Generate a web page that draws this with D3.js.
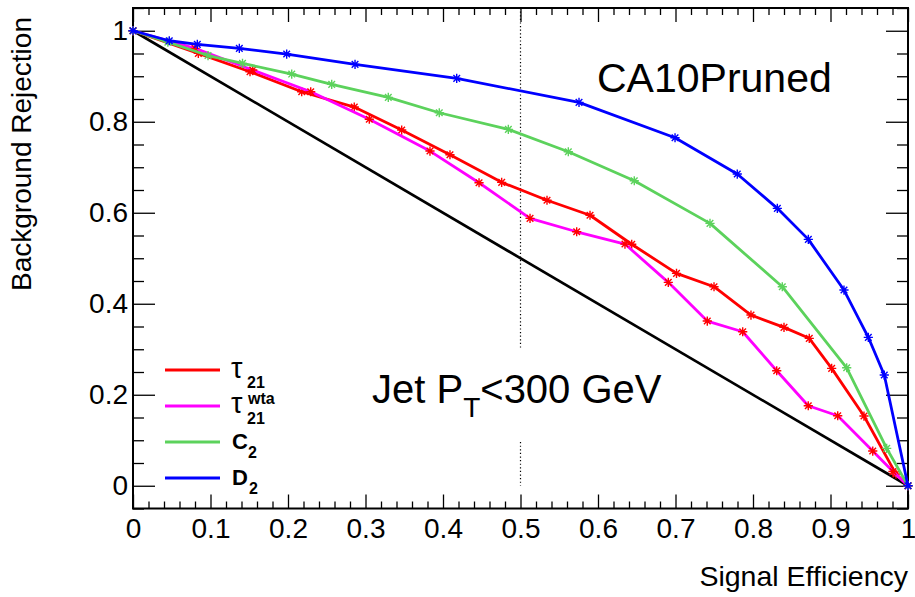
<!DOCTYPE html>
<html><head><meta charset="utf-8">
<script src="https://cdn.jsdelivr.net/npm/d3@7"></script>
<style>
html,body{margin:0;padding:0;background:#fff;}
text{font-family:"Liberation Sans",Arial,Helvetica,sans-serif;}
</style></head>
<body><svg id="c" width="915" height="597"></svg>
<script>
// ---- data ----
const tau21X = [0, 0.0843, 0.151, 0.2177, 0.2855, 0.3467, 0.409, 0.4757, 0.5342, 0.5897, 0.6435, 0.7013, 0.7497, 0.7974, 0.84, 0.8726, 0.9015, 0.9432, 0.9845, 1];
const tau21Y = [1, 0.9503, 0.9099, 0.8659, 0.8323, 0.7818, 0.7275, 0.6668, 0.6275, 0.5945, 0.5308, 0.4668, 0.4374, 0.3752, 0.3481, 0.324, 0.258, 0.1532, 0.0257, 0];
const tauWtaX = [0, 0.08, 0.1545, 0.2293, 0.3049, 0.3832, 0.4465, 0.5123, 0.5725, 0.6348, 0.6907, 0.741, 0.7867, 0.8306, 0.8713, 0.9093, 0.9545, 0.9806, 1];
const tauWtaY = [1, 0.9613, 0.9136, 0.8659, 0.8055, 0.7356, 0.6659, 0.5877, 0.5582, 0.5312, 0.447, 0.362, 0.3385, 0.2527, 0.1758, 0.1538, 0.0763, 0.0312, 0];
const c2X = [0, 0.045, 0.0968, 0.1413, 0.2048, 0.2564, 0.3294, 0.3952, 0.4843, 0.5617, 0.6468, 0.7445, 0.8378, 0.9209, 0.9725, 1];
const c2Y = [1, 0.975, 0.9455, 0.9284, 0.9048, 0.8822, 0.8536, 0.8198, 0.7833, 0.7341, 0.6703, 0.5767, 0.4374, 0.2593, 0.0822, 0];
const d2X = [0, 0.0468, 0.083, 0.1372, 0.1983, 0.2865, 0.4177, 0.5755, 0.6994, 0.7797, 0.8314, 0.8714, 0.9174, 0.9488, 0.9694, 1];
const d2Y = [1, 0.978, 0.97, 0.9613, 0.9488, 0.9261, 0.8954, 0.8426, 0.7648, 0.6851, 0.6097, 0.5415, 0.4301, 0.3262, 0.2433, 0];
const randomX = [0, 1];
const randomY = [1, 0];
const xTicks = [0, 0.1, 0.2, 0.3, 0.4, 0.5, 0.6, 0.7, 0.8, 0.9, 1];
const xTickLabels = ["0", "0.1", "0.2", "0.3", "0.4", "0.5", "0.6", "0.7", "0.8", "0.9", "1"];
const yTicks = [0, 0.2, 0.4, 0.6, 0.8, 1];
const yTickLabels = ["0", "0.2", "0.4", "0.6", "0.8", "1"];
const seriesNames = ["tau21", "tau21wta", "C2", "D2"];

// ---- drawing ----
const svg = d3.select("#c");
const L = 133, R = 908, T = 8, B = 508.5;
const x = d3.scaleLinear().domain([0, 1]).range([L, R]);
const y = d3.scaleLinear().domain([-0.05, 1.05]).range([B, T]);

const series = [
  {name: "tau21", xs: tau21X, ys: tau21Y, color: "#ff0000", marker: "#ff0000"},
  {name: "tau21wta", xs: tauWtaX, ys: tauWtaY, color: "#ff00ff", marker: "#ff0000"},
  {name: "C2", xs: c2X, ys: c2Y, color: "#5cd25c", marker: "#5cd25c"},
  {name: "D2", xs: d2X, ys: d2Y, color: "#0000ff", marker: "#0000ff"}
];

const xMinor = d3.range(0, 51).map(i => i / 50).filter(v => Math.abs(v * 10 - Math.round(v * 10)) > 1e-6);
const yMinor = d3.range(-1, 22).map(i => i * 0.05).filter(v => Math.abs(v * 5 - Math.round(v * 5)) > 1e-6);

function styleAxis(g) {
  g.select(".domain").remove();
  g.selectAll("line").attr("stroke", "#000").attr("stroke-width", 1.3);
  g.selectAll("text").attr("font-size", 28).attr("fill", "#000")
    .attr("font-family", "'Liberation Sans', Arial, sans-serif");
}

// bottom
svg.append("g").attr("transform", `translate(0,${B})`)
  .call(d3.axisBottom(x).tickValues(xTicks).tickSizeInner(-14).tickSizeOuter(0).tickPadding(10)
    .tickFormat((d, i) => xTickLabels[i])).call(styleAxis);
svg.append("g").attr("transform", `translate(0,${B})`)
  .call(d3.axisBottom(x).tickValues(xMinor).tickSizeInner(-7).tickSizeOuter(0).tickFormat("")).call(styleAxis);
// top
svg.append("g").attr("transform", `translate(0,${T})`)
  .call(d3.axisTop(x).tickValues(xTicks).tickSizeInner(-14).tickSizeOuter(0).tickFormat("")).call(styleAxis);
svg.append("g").attr("transform", `translate(0,${T})`)
  .call(d3.axisTop(x).tickValues(xMinor).tickSizeInner(-7).tickSizeOuter(0).tickFormat("")).call(styleAxis);
// left
svg.append("g").attr("transform", `translate(${L},0)`)
  .call(d3.axisLeft(y).tickValues(yTicks).tickSizeInner(-22).tickSizeOuter(0).tickPadding(5)
    .tickFormat((d, i) => yTickLabels[i])).call(styleAxis);
svg.append("g").attr("transform", `translate(${L},0)`)
  .call(d3.axisLeft(y).tickValues(yMinor).tickSizeInner(-11).tickSizeOuter(0).tickFormat("")).call(styleAxis);
// right
svg.append("g").attr("transform", `translate(${R},0)`)
  .call(d3.axisRight(y).tickValues(yTicks).tickSizeInner(-22).tickSizeOuter(0).tickFormat("")).call(styleAxis);
svg.append("g").attr("transform", `translate(${R},0)`)
  .call(d3.axisRight(y).tickValues(yMinor).tickSizeInner(-11).tickSizeOuter(0).tickFormat("")).call(styleAxis);

// frame
svg.append("rect").attr("x", L).attr("y", T).attr("width", R - L).attr("height", B - T)
  .attr("fill", "none").attr("stroke", "#000").attr("stroke-width", 2);

// dotted vertical line at 0.5
svg.append("line").attr("x1", x(0.5)).attr("x2", x(0.5)).attr("y1", y(1.05)).attr("y2", y(0.30))
  .attr("stroke", "#000").attr("stroke-width", 1.2).attr("stroke-dasharray", "1.2,2.4");
svg.append("line").attr("x1", x(0.5)).attr("x2", x(0.5)).attr("y1", y(0.096)).attr("y2", y(0.0))
  .attr("stroke", "#000").attr("stroke-width", 1.2).attr("stroke-dasharray", "1.2,2.4");

// random-guess diagonal
const line = d3.line().x(d => x(d[0])).y(d => y(d[1]));
svg.append("path").attr("d", line(randomX.map((v, i) => [v, randomY[i]])))
  .attr("fill", "none").attr("stroke", "#000").attr("stroke-width", 2.7);

function star(cx, cy, r) {
  const k = r * 0.72;
  return `M${cx - r},${cy}h${2 * r}M${cx},${cy - r}v${2 * r}` +
    `M${cx - k},${cy - k}l${2 * k},${2 * k}M${cx - k},${cy + k}l${2 * k},${-2 * k}`;
}

series.forEach(s => {
  const pts = s.xs.map((v, i) => [v, s.ys[i]]);
  svg.append("path").attr("d", line(pts)).attr("fill", "none")
    .attr("stroke", s.color).attr("stroke-width", 2.8).attr("stroke-linejoin", "round");
  svg.append("path").attr("d", pts.map(p => star(x(p[0]), y(p[1]), 4.6)).join(""))
    .attr("fill", "none").attr("stroke", s.marker).attr("stroke-width", 1.4);
});

// legend
const legY = [370, 406, 442, 478];
series.forEach((s, i) => {
  svg.append("line").attr("x1", 165).attr("x2", 220).attr("y1", legY[i]).attr("y2", legY[i])
    .attr("stroke", s.color).attr("stroke-width", 3);
});
const tauFont = "'DejaVu Sans',sans-serif";
// tau21
svg.append("text").attr("x", 231).attr("y", 378).attr("font-family", tauFont).attr("font-size", 29).text("τ");
svg.append("text").attr("x", 247).attr("y", 388).attr("font-weight", "bold").attr("font-size", 16).text("21");
// tau21 wta
svg.append("text").attr("x", 231).attr("y", 413).attr("font-family", tauFont).attr("font-size", 29).text("τ");
svg.append("text").attr("x", 248).attr("y", 404).attr("font-weight", "bold").attr("font-size", 16).text("wta");
svg.append("text").attr("x", 247).attr("y", 424).attr("font-weight", "bold").attr("font-size", 16).text("21");
// C2
svg.append("text").attr("x", 232).attr("y", 449).attr("font-weight", "bold").attr("font-size", 22).text("C");
svg.append("text").attr("x", 248).attr("y", 458).attr("font-weight", "bold").attr("font-size", 16).text("2");
// D2
svg.append("text").attr("x", 232).attr("y", 485).attr("font-weight", "bold").attr("font-size", 22).text("D");
svg.append("text").attr("x", 249).attr("y", 494).attr("font-weight", "bold").attr("font-size", 16).text("2");

// annotations
svg.append("text").attr("x", 597).attr("y", 92).attr("font-size", 41).text("CA10Pruned");
const jt = svg.append("text").attr("x", 372).attr("y", 403).attr("font-size", 40);
jt.append("tspan").text("Jet P");
jt.append("tspan").attr("dy", 14).attr("font-size", 28).text("T");
jt.append("tspan").attr("dy", -14).text("<300 GeV");

// axis titles
svg.append("text").attr("x", R).attr("y", 586).attr("text-anchor", "end").attr("font-size", 28.5)
  .text("Signal Efficiency");
svg.append("text").attr("transform", `translate(31,17) rotate(-90)`).attr("text-anchor", "end")
  .attr("font-size", 28).text("Background Rejection");
</script></body></html>
